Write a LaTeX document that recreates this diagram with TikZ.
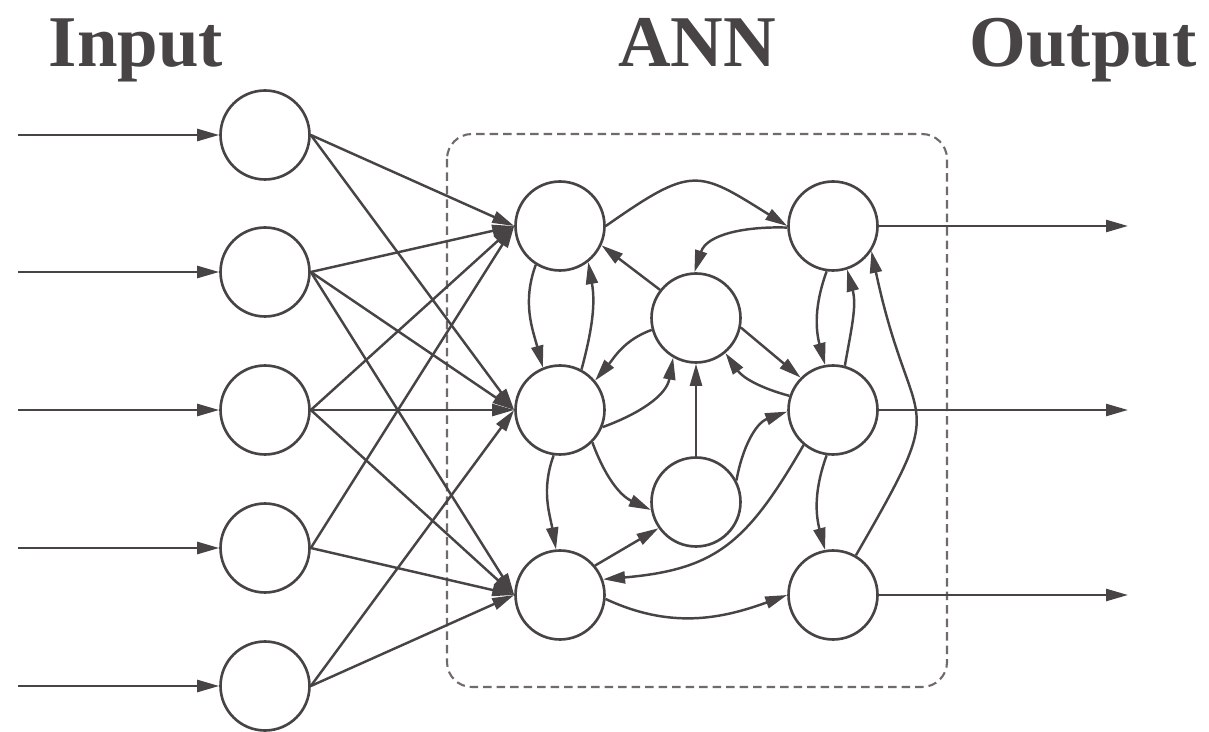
\documentclass[tikz,border=0pt]{standalone}
\usepackage{fontspec}
\setmainfont{Liberation Serif}
\usepackage{tikz}
\usetikzlibrary{arrows.meta}
\definecolor{inkcolor}{RGB}{72,68,70}
\definecolor{boxcolor}{RGB}{112,106,110}

\begin{document}
\begin{tikzpicture}[
  x=0.02cm, y=0.02cm,
  neuron/.style={circle, draw=inkcolor, line width=1.5pt, fill=white, minimum size=1.78cm, inner sep=0pt},
  title/.style={anchor=base, text=inkcolor, font=\bfseries\fontsize{41.5}{41.5}\selectfont},
  arrow/.style={-{Triangle[length=4.4mm, width=2.4mm]}, line width=1.4pt, draw=inkcolor},
  annbox/.style={draw=boxcolor, line width=1.2pt, dash pattern=on 0.17cm off 0.1cm, rounded corners=0.5cm}
]
  \useasboundingbox (0,0) rectangle (1209,-732);

  % Titles
  \node[title] (tin) at (136,-67) {Input};
  \node[title] (tann) at (697,-67) {ANN};
  \node[title] (tout) at (1083,-67) {Output};

  % ANN frame
  \draw[annbox] (447,-134) rectangle (947,-687);

  % Input layer
  \node[neuron] (in1) at (265,-135) {};
  \node[neuron] (in2) at (265,-272) {};
  \node[neuron] (in3) at (265,-410) {};
  \node[neuron] (in4) at (265,-548) {};
  \node[neuron] (in5) at (265,-686) {};

  % ANN neurons
  \node[neuron] (l1) at (560,-226) {};
  \node[neuron] (l2) at (560,-410) {};
  \node[neuron] (l3) at (560,-595) {};
  \node[neuron] (m1) at (696,-318) {};
  \node[neuron] (m2) at (696,-502) {};
  \node[neuron] (r1) at (833,-226) {};
  \node[neuron] (r2) at (833,-410) {};
  \node[neuron] (r3) at (833,-595) {};

  % Free ends
  \coordinate (src1) at (18,-135);
  \coordinate (src2) at (18,-272);
  \coordinate (src3) at (18,-410);
  \coordinate (src4) at (18,-548);
  \coordinate (src5) at (18,-686);
  \coordinate (sink1) at (1128,-226);
  \coordinate (sink2) at (1128,-410);
  \coordinate (sink3) at (1128,-595);

  % Signals in and out
  \draw[arrow] (src1) -- (in1.west);
  \draw[arrow] (src2) -- (in2.west);
  \draw[arrow] (src3) -- (in3.west);
  \draw[arrow] (src4) -- (in4.west);
  \draw[arrow] (src5) -- (in5.west);
  \draw[arrow] (r1.east) -- (sink1);
  \draw[arrow] (r2.east) -- (sink2);
  \draw[arrow] (r3.east) -- (sink3);

  % Input to ANN
  \draw[arrow] (in1.east) -- (l1.west);
  \draw[arrow] (in1.east) -- (l2.west);
  \draw[arrow] (in2.east) -- (l1.west);
  \draw[arrow] (in2.east) -- (l2.west);
  \draw[arrow] (in2.east) -- (l3.west);
  \draw[arrow] (in3.east) -- (l1.west);
  \draw[arrow] (in3.east) -- (l2.west);
  \draw[arrow] (in3.east) -- (l3.west);
  \draw[arrow] (in4.east) -- (l1.west);
  \draw[arrow] (in4.east) -- (l3.west);
  \draw[arrow] (in5.east) -- (l2.west);
  \draw[arrow] (in5.east) -- (l3.west);

  % Recurrent links
  \draw[arrow] (l1.east) to[out=35, in=148, looseness=1.5] (r1.west);
  \draw[arrow] (r1.182) to[out=178, in=72] (m1.92);
  \draw[arrow] (m1.142) -- (l1.-25);
  \draw[arrow] (l1.238) to[out=250, in=105] (l2.112);
  \draw[arrow] (l2.62) to[out=75, in=-80] (l1.-52);
  \draw[arrow] (m1.195) to[out=200, in=50] (l2.40);
  \draw[arrow] (l2.-22) to[out=20, in=-100] (m1.240);
  \draw[arrow] (m2.north) -- (m1.south);
  \draw[arrow] (m1.-12) -- (r2.135);
  \draw[arrow] (r2.162) to[out=165, in=-55] (m1.-50);
  \draw[arrow] (m2.28) to[out=80, in=200] (r2.182);
  \draw[arrow] (r1.262) to[out=250, in=105] (r2.100);
  \draw[arrow] (r2.75) to[out=80, in=-75] (r1.-72);
  \draw[arrow] (r3.60) to[out=60, in=-78, looseness=1.65] (r1.-33);
  \draw[arrow] (r2.230) to[out=240, in=5, looseness=1.2] (l3.20);
  \draw[arrow] (r2.262) to[out=250, in=105] (r3.100);
  \draw[arrow] (l2.262) to[out=250, in=100] (l3.95);
  \draw[arrow] (l2.-45) to[out=-70, in=155] (m2.190);
  \draw[arrow] (l3.40) -- (m2.215);
  \draw[arrow] (l3.-5) to[out=-25, in=200] (r3.west);

\end{tikzpicture}
\end{document}
